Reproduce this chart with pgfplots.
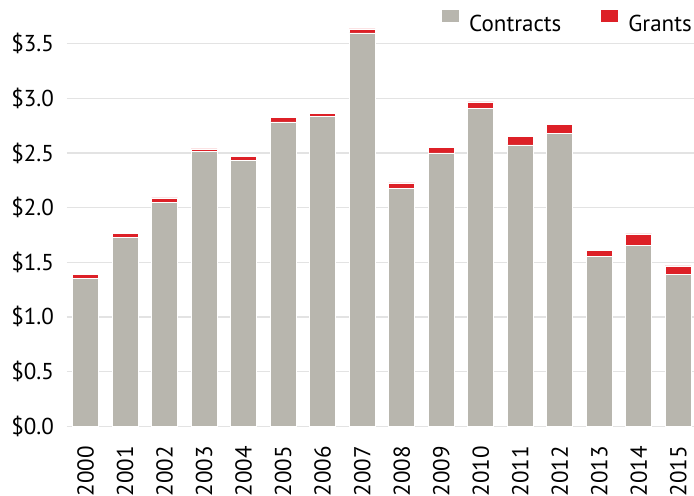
\documentclass[border=0pt]{standalone}
\usepackage{pgfplots}
\pgfplotsset{compat=1.18}
\usepackage{pgfplotstable}
\usepackage{fontspec}
\setmainfont{PT Sans}

\definecolor{contractgray}{HTML}{B8B6AE}
\definecolor{grantred}{HTML}{DD2027}
\definecolor{gridgray}{HTML}{E3E3E3}

% funding by year, billions of dollars
\pgfplotstableread{
idx year contracts grants
0  2000 1.35 0.04
1  2001 1.725 0.04
2  2002 2.05 0.04
3  2003 2.515 0.022
4  2004 2.43 0.036
5  2005 2.785 0.042
6  2006 2.835 0.027
7  2007 3.60 0.035
8  2008 2.177 0.05
9  2009 2.50 0.052
10 2010 2.908 0.06
11 2011 2.575 0.08
12 2012 2.682 0.08
13 2013 1.553 0.053
14 2014 1.654 0.105
15 2015 1.388 0.08
}\fundtable

\begin{document}
\fontsize{23bp}{27bp}\selectfont
\begin{tikzpicture}
\begin{axis}[
    scale only axis,
    width=627bp, height=426bp,
    ybar stacked,
    bar width=26bp,
    xmin=-0.48, xmax=15.4,
    ymin=0, ymax=3.9,
    xtick=data,
    xticklabels from table={\fundtable}{year},
    xticklabel style={yshift=-12bp, rotate=90, anchor=east},
    ytick={0,0.5,...,3.5},
    yticklabel={\$\pgfmathprintnumber[fixed,fixed zerofill,precision=1]{\tick}},
    /pgf/number format/assume math mode=true,
    ymajorgrids=true,
    grid style={color=gridgray, line width=1.3bp},
    axis line style={draw=none},
    major tick style={draw=none},
    tick label style={font=\fontsize{23bp}{27bp}\selectfont},
    yticklabel style={xshift=-5bp},
    legend columns=2,
    legend style={at={(1,1)}, anchor=north east, draw=none, fill=none,
        inner sep=0pt, xshift=0bp, yshift=-10bp,
        font=\fontsize{23bp}{27bp}\selectfont,
        /tikz/every odd column/.append style={column sep=8bp},
        /tikz/every even column/.append style={column sep=38bp}},
    legend image code/.code={\fill[#1,draw=none] (0bp,3bp) rectangle (17bp,15bp);},
]
\addplot[fill=contractgray, draw=white, line width=0.5bp] table[x=idx, y=contracts] {\fundtable};
\addlegendentry{Contracts}
\addplot[fill=grantred, draw=white, line width=0.5bp] table[x=idx, y=grants] {\fundtable};
\addlegendentry{Grants}
\end{axis}
\pgfresetboundingbox
\path (current axis.south west) ++(-66.7bp,-69bp) rectangle (current axis.north east);
\end{tikzpicture}
\end{document}
